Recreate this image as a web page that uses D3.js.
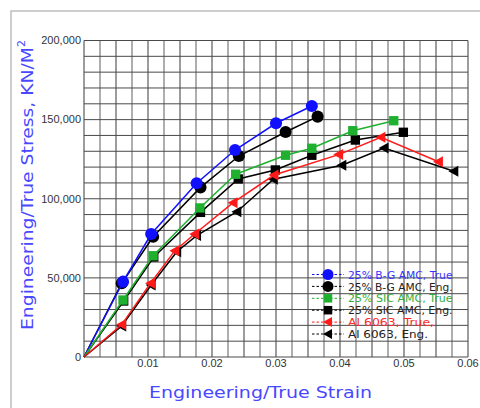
<!DOCTYPE html>
<html>
<head>
<meta charset="utf-8">
<script src="https://cdn.jsdelivr.net/npm/d3@7"></script>
<style>
  body { margin: 0; background: white; }
  svg { display: block; }
</style>
</head>
<body>
<div id="chart"></div>
<script>
// values (strain, stress in KN/M^2)
var strainBGTrue = [0, 0.0061, 0.0105, 0.0176, 0.0236, 0.0300, 0.0356];
var stressBGTrue = [0, 47600, 77700, 109800, 130800, 147700, 158600];

var strainBGEng = [0, 0.0059, 0.0108, 0.0182, 0.0242, 0.0315, 0.0365];
var stressBGEng = [0, 46600, 76000, 107200, 127000, 142200, 151900];

var strainSiCTrue = [0, 0.0061, 0.0108, 0.0181, 0.0237, 0.0315, 0.0356, 0.0420, 0.0484];
var stressSiCTrue = [0, 36000, 64000, 94200, 115500, 127500, 131900, 143000, 149300];

var strainSiCEng = [0, 0.0062, 0.0109, 0.0182, 0.0241, 0.0299, 0.0356, 0.0424, 0.0499];
var stressSiCEng = [0, 35400, 63200, 91400, 112500, 118200, 127500, 137100, 142000];

var strainAlTrue = [0, 0.0059, 0.0104, 0.0142, 0.0173, 0.0233, 0.0297, 0.0398, 0.0464, 0.0554];
var stressAlTrue = [0, 20500, 46600, 67200, 77700, 97500, 115000, 127900, 138900, 123400];

var strainAlEng = [0, 0.0059, 0.0105, 0.0145, 0.0176, 0.0239, 0.0296, 0.0403, 0.0469, 0.0578];
var stressAlEng = [0, 19600, 45500, 66500, 76700, 91800, 112300, 121200, 132100, 117400];

var legendLabels = ["25% B-G AMC, True", "25% B-G AMC, Eng.", "25% SIC AMC, True",
                    "25% SIC AMC, Eng.", "Al 6063, True,", "Al 6063, Eng."];
var xTicks = [0.01, 0.02, 0.03, 0.04, 0.05, 0.06];
var yTicks = [0, 50000, 100000, 150000, 200000];

var width = 480, height = 408;
var blue = "#1010ff", green = "#20b030", red = "#ff1a1a";

// build the series table (legend order)
var series = [
  {name: legendLabels[0], x: strainBGTrue, y: stressBGTrue, color: blue, text: "#3535ff", sym: "circle"},
  {name: legendLabels[1], x: strainBGEng, y: stressBGEng, color: "#000", text: "#222", sym: "circle"},
  {name: legendLabels[2], x: strainSiCTrue, y: stressSiCTrue, color: green, text: "#30b040", sym: "square"},
  {name: legendLabels[3], x: strainSiCEng, y: stressSiCEng, color: "#000", text: "#222", sym: "square"},
  {name: legendLabels[4], x: strainAlTrue, y: stressAlTrue, color: red, text: "#ff2a2a", sym: "tri"},
  {name: legendLabels[5], x: strainAlEng, y: stressAlEng, color: "#000", text: "#222", sym: "tri"}
];

var svg = d3.select("#chart")
  .append("svg")
    .attr("width", width)
    .attr("height", height);

// outer frame, runs off the right/bottom edges
svg.append("rect")
  .attr("x", 11).attr("y", 11)
  .attr("width", 520).attr("height", 450)
  .attr("fill", "none")
  .attr("stroke", "#bdbdbd")
  .attr("stroke-width", 1.5);

var x = d3.scaleLinear().domain([0, 0.06]).range([84, 468]);
var y = d3.scaleLinear().domain([0, 200000]).range([357, 40.5]);

// grid every 0.0025 x 10,000
var grid = svg.append("g").attr("stroke", "#4a4a4a").attr("stroke-width", 1);
d3.range(0, 25).forEach(function(i) {
  var v = i * 0.0025;
  grid.append("line")
    .attr("x1", x(v)).attr("x2", x(v))
    .attr("y1", y(0)).attr("y2", y(200000))
    .attr("stroke", i % 2 ? "#9a9a9a" : "#3a3a3a")
    .attr("stroke-width", i % 2 ? 1.6 : 1);
});
d3.range(0, 21).forEach(function(i) {
  var v = i * 10000;
  grid.append("line")
    .attr("x1", x(0)).attr("x2", x(0.06))
    .attr("y1", y(v)).attr("y2", y(v));
});

// tick labels
svg.append("g").selectAll("text")
  .data(yTicks)
  .enter().append("text")
    .attr("x", 81)
    .attr("y", function(d) { return y(d); })
    .attr("dy", "0.35em")
    .attr("text-anchor", "end")
    .style("font", "11px 'Liberation Sans', Arial, sans-serif")
    .style("fill", "#333")
    .text(function(d) { return d === 0 ? "0" : d3.format(",")(d); });

svg.append("g").selectAll("text")
  .data(xTicks)
  .enter().append("text")
    .attr("x", function(d) { return x(d); })
    .attr("y", 367)
    .attr("text-anchor", "middle")
    .style("font", "11px 'Liberation Sans', Arial, sans-serif")
    .style("fill", "#333")
    .text(function(d) { return d3.format(".2f")(d); });

// axis titles
svg.append("text")
  .attr("x", 149).attr("y", 398)
  .attr("textLength", 223)
  .attr("lengthAdjust", "spacingAndGlyphs")
  .style("font", "16px 'DejaVu Sans', sans-serif")
  .style("fill", "#4848ff")
  .text("Engineering/True Strain");

var yt = svg.append("text")
  .attr("transform", "translate(33,330) rotate(-90)")
  .style("font", "15px 'DejaVu Sans', sans-serif")
  .style("fill", "#4848ff");
yt.append("tspan")
  .attr("textLength", 283)
  .attr("lengthAdjust", "spacingAndGlyphs")
  .text("Engineering/True Stress, KN/M");
yt.append("tspan")
  .attr("dy", -8)
  .style("font-size", "11px")
  .text("2");

// markers
function marker(g, sym, color, size) {
  if (sym === "circle") {
    g.append("circle").attr("r", size * 0.55).attr("fill", color);
  } else if (sym === "square") {
    var s = size * 0.85;
    g.append("rect").attr("x", -s / 2).attr("y", -s / 2)
      .attr("width", s).attr("height", s).attr("fill", color);
  } else {
    var h = size * 0.5;
    g.append("path")
      .attr("d", "M" + (-h) + ",0L" + (h * 0.8) + "," + (-h) + "L" + (h * 0.8) + "," + h + "Z")
      .attr("fill", color);
  }
}

var line = d3.line()
  .x(function(d) { return x(d[0]); })
  .y(function(d) { return y(d[1]); });

// draw Eng. curves first so the True markers sit on top
[1, 0, 3, 2, 5, 4].forEach(function(k) {
  var s = series[k];
  var pts = s.x.map(function(v, i) { return [v, s.y[i]]; });
  var g = svg.append("g");
  g.append("path")
    .datum(pts)
    .attr("d", line)
    .attr("fill", "none")
    .attr("stroke", s.color)
    .attr("stroke-width", 1.5);
  g.selectAll("g.m")
    .data(pts.slice(1))
    .enter().append("g")
      .attr("class", "m")
      .attr("transform", function(d) { return "translate(" + x(d[0]) + "," + y(d[1]) + ")"; })
      .each(function() { marker(d3.select(this), s.sym, s.color, 11); });
});

// legend
var leg = svg.append("g");
series.forEach(function(s, i) {
  var ly = 274.5 + i * 11.9;
  leg.append("line")
    .attr("x1", 312).attr("x2", 344)
    .attr("y1", ly).attr("y2", ly)
    .attr("stroke", s.color)
    .attr("stroke-width", 1)
    .attr("stroke-dasharray", "2.5,2");
  var m = leg.append("g").attr("transform", "translate(328," + ly + ")");
  marker(m, s.sym, s.color, 10);
  leg.append("text")
    .attr("x", 348).attr("y", ly)
    .attr("dy", "0.38em")
    .attr("textLength", s.name.length * 6.15)
    .attr("lengthAdjust", "spacingAndGlyphs")
    .style("font", "11px 'DejaVu Sans', sans-serif")
    .style("fill", s.text)
    .text(s.name);
});
</script>
</body>
</html>
